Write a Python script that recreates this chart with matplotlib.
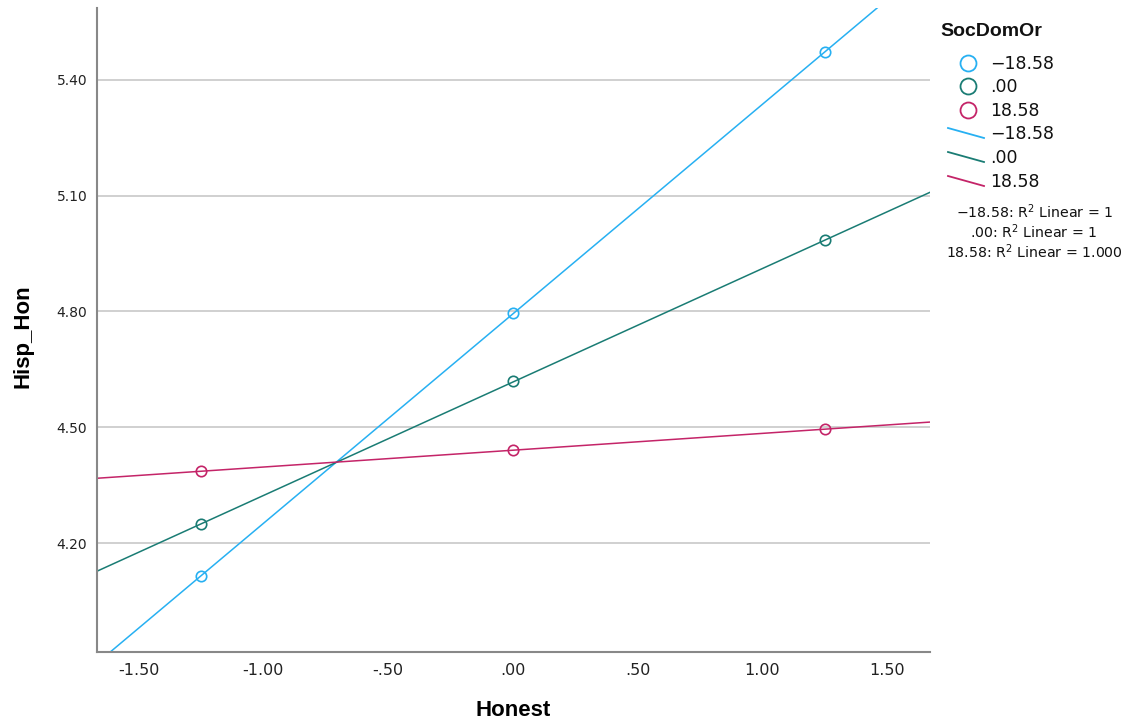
import numpy as np
import matplotlib
matplotlib.use("Agg")
import matplotlib.pyplot as plt
from matplotlib.lines import Line2D

# ---- data ----
honest = [-1.25, 0.00, 1.25]
groups = ["-18.58", ".00", "18.58"]
legend_labels = ["\u221218.58", ".00", "18.58"]
hisp_neg = [4.115, 4.795, 5.472]
hisp_zero = [4.249, 4.619, 4.984]
hisp_pos = [4.386, 4.441, 4.495]
r2_labels = ["\u221218.58: R$^2$ Linear = 1", ".00: R$^2$ Linear = 1", "18.58: R$^2$ Linear = 1.000"]
xticks = [-1.5, -1.0, -0.5, 0.0, 0.5, 1.0, 1.5]
xticklabels = ["-1.50", "-1.00", "-.50", ".00", ".50", "1.00", "1.50"]
yticks = [4.20, 4.50, 4.80, 5.10, 5.40]
yticklabels = ["4.20", "4.50", "4.80", "5.10", "5.40"]

colors = ["#27B0F2", "#1A7C74", "#C42468"]
series = [hisp_neg, hisp_zero, hisp_pos]

fig = plt.figure(figsize=(11.33, 7.28), dpi=100)
ax = fig.add_axes([0.0856, 0.1044, 0.8352 - 0.0856 - 0.0144, 0.989 - 0.1044])
xlim = (-1.667, 1.671)
ylim = (3.918, 5.586)
ax.set_xlim(*xlim)
ax.set_ylim(*ylim)

for yv in yticks:
    ax.axhline(yv, color="#c8c8c8", lw=1.2, zorder=0)

xx = np.array(xlim)
for ys, c in zip(series, colors):
    m, b = np.polyfit(honest, ys, 1)
    ax.plot(xx, m * xx + b, color=c, lw=1.1, zorder=2, clip_on=True)
    ax.plot(honest, ys, linestyle="none", marker="o", markersize=7.5,
            markerfacecolor="none", markeredgecolor=c, markeredgewidth=1.2, zorder=3)

for s in ["top", "right"]:
    ax.spines[s].set_visible(False)
for s in ["left", "bottom"]:
    ax.spines[s].set_color("#888888")
    ax.spines[s].set_linewidth(1.5)
ax.tick_params(length=0)
ax.set_xticks(xticks)
ax.set_xticklabels(xticklabels, fontsize=11.5, family="DejaVu Sans", color="#222222")
ax.set_yticks(yticks)
ax.set_yticklabels(yticklabels, fontsize=10, family="DejaVu Sans", color="#222222")
ax.tick_params(axis="x", pad=8)
ax.tick_params(axis="y", pad=7)
ax.set_xlabel("Honest", fontsize=16, fontweight="bold", family="Liberation Sans", labelpad=16)
ax.set_ylabel("Hisp_Hon", fontsize=16, fontweight="bold", family="Liberation Sans")
ax.yaxis.set_label_coords(-0.076, 0.49)

# ---- legend (drawn manually) ----
W, H = 1133.0, 728.0
def fx(px): return px / W
def fy(py): return 1 - py / H

fig.text(fx(940), fy(32), "SocDomOr", fontsize=14, fontweight="bold", family="Liberation Sans",
         va="center", ha="left", color="#111111")
for i, (lab, c) in enumerate(zip(legend_labels, colors)):
    y = 63 + i * 23.3
    fig.add_artist(Line2D([fx(968)], [fy(y)], marker="o", markersize=11.5, markerfacecolor="none",
                          markeredgecolor=c, markeredgewidth=1.3, linestyle="none"))
    fig.text(fx(990), fy(y + 1), lab, fontsize=12.5, family="DejaVu Sans", va="center", ha="left",
             color="#111111")
for i, (lab, c) in enumerate(zip(legend_labels, colors)):
    y = 134 + i * 24
    fig.add_artist(Line2D([fx(948), fx(984)], [fy(y - 6), fy(y + 4)], color=c, lw=1.3))
    fig.text(fx(990), fy(y), lab, fontsize=12.5, family="DejaVu Sans", va="center", ha="left",
             color="#111111")
for i, lab in enumerate(r2_labels):
    fig.text(fx(1034), fy(212 + i * 20), lab, fontsize=10.2, family="DejaVu Sans", va="center",
             ha="center", color="#111111")

fig.savefig("out.png", dpi=100, facecolor="white")
